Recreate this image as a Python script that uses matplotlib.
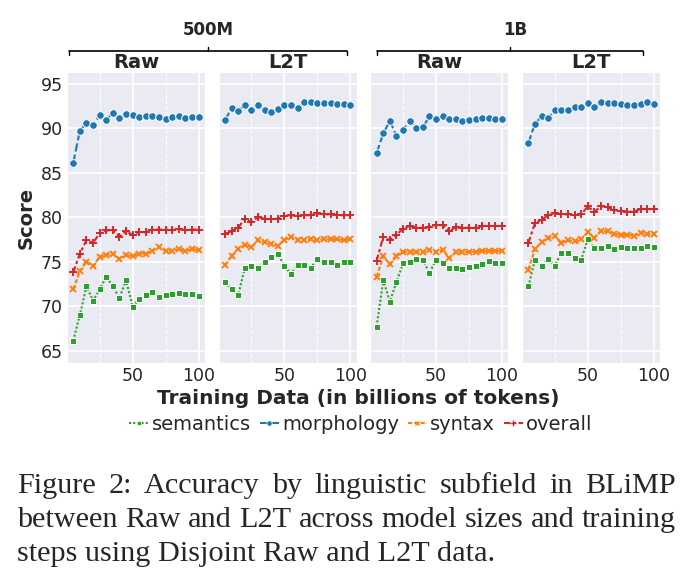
import matplotlib
matplotlib.use("Agg")
import matplotlib.pyplot as plt
from matplotlib.lines import Line2D
from matplotlib.ticker import MultipleLocator
import seaborn as sns

sns.set_style("darkgrid")
plt.rcParams['font.family'] = ['DejaVu Sans']

x_tokens = [5, 10, 15, 20, 25, 30, 35, 40, 45, 50, 55, 60, 65, 70, 75, 80, 85, 90, 95, 100]
panel_titles = ["Raw", "L2T", "Raw", "L2T"]
group_titles = ["500M", "1B"]
subfields = ["semantics", "morphology", "syntax", "overall"]

# 500M Raw
m500_raw_semantics = [66.1, 69.0, 72.2, 70.6, 71.9, 73.3, 72.2, 70.9, 72.9, 69.9, 70.8, 71.2, 71.6, 71.0, 71.2, 71.3, 71.5, 71.3, 71.3, 71.1]
m500_raw_morphology = [86.1, 89.7, 90.6, 90.3, 91.5, 90.9, 91.7, 91.1, 91.6, 91.5, 91.2, 91.3, 91.4, 91.2, 91.0, 91.2, 91.4, 91.1, 91.2, 91.2]
m500_raw_syntax = [71.9, 73.9, 75.0, 74.5, 75.5, 75.7, 75.9, 75.3, 75.7, 75.6, 75.9, 75.9, 76.2, 76.6, 76.2, 76.2, 76.4, 76.2, 76.4, 76.3]
m500_raw_overall = [73.8, 75.9, 77.4, 77.1, 78.2, 78.5, 78.5, 77.8, 78.4, 78.0, 78.3, 78.3, 78.6, 78.6, 78.6, 78.5, 78.7, 78.5, 78.6, 78.6]

# 500M L2T
m500_l2t_semantics = [72.7, 71.9, 71.2, 74.3, 74.5, 74.3, 75.0, 75.5, 75.9, 74.5, 73.6, 74.6, 74.6, 74.3, 75.3, 74.9, 74.9, 74.6, 74.9, 74.9]
m500_l2t_morphology = [90.9, 92.2, 91.9, 92.6, 92.0, 92.6, 92.0, 91.8, 92.1, 92.6, 92.6, 92.2, 92.9, 92.9, 92.8, 92.8, 92.8, 92.7, 92.7, 92.6]
m500_l2t_syntax = [74.6, 75.6, 76.4, 76.9, 76.6, 77.4, 77.2, 77.0, 76.8, 77.4, 77.8, 77.4, 77.4, 77.5, 77.4, 77.5, 77.5, 77.5, 77.4, 77.5]
m500_l2t_overall = [78.1, 78.4, 78.8, 79.8, 79.4, 80.0, 79.8, 79.8, 79.8, 80.1, 80.2, 80.1, 80.2, 80.2, 80.4, 80.3, 80.3, 80.2, 80.2, 80.2]

# 1B Raw
b1_raw_semantics = [67.7, 72.9, 70.5, 72.7, 74.8, 75.0, 75.3, 75.2, 73.7, 75.2, 74.8, 74.3, 74.3, 74.2, 74.4, 74.5, 74.7, 75.1, 74.8, 74.8]
b1_raw_morphology = [87.2, 89.4, 90.8, 89.1, 89.8, 90.8, 90.0, 90.1, 91.3, 91.0, 91.3, 91.0, 91.0, 90.8, 90.9, 91.0, 91.1, 91.1, 91.0, 91.0]
b1_raw_syntax = [73.3, 75.6, 74.7, 75.6, 76.1, 76.1, 76.1, 76.1, 76.3, 76.1, 76.3, 75.4, 76.1, 76.1, 76.1, 76.1, 76.2, 76.2, 76.2, 76.2]
b1_raw_overall = [75.1, 77.8, 77.4, 78.0, 78.7, 79.0, 78.8, 78.8, 78.9, 79.1, 79.1, 78.4, 78.9, 78.8, 78.8, 78.8, 79.0, 79.0, 79.0, 79.0]

# 1B L2T
b1_l2t_semantics = [72.2, 75.2, 74.5, 75.3, 74.5, 76.0, 76.0, 75.4, 75.2, 77.5, 76.5, 76.5, 76.8, 76.4, 76.6, 76.5, 76.5, 76.5, 76.7, 76.6]
b1_l2t_morphology = [88.3, 90.5, 91.3, 91.1, 92.0, 92.0, 92.0, 92.4, 92.4, 92.8, 92.4, 92.9, 92.8, 92.8, 92.7, 92.6, 92.6, 92.7, 92.9, 92.7]
b1_l2t_syntax = [74.1, 76.4, 77.2, 77.6, 77.9, 77.1, 77.4, 77.3, 77.5, 78.3, 77.7, 78.4, 78.4, 78.1, 78.0, 78.0, 77.9, 78.2, 78.1, 78.1]
b1_l2t_overall = [77.1, 79.3, 79.7, 80.2, 80.4, 80.3, 80.3, 80.2, 80.3, 81.2, 80.6, 81.2, 81.1, 80.8, 80.7, 80.6, 80.6, 80.9, 80.9, 80.9]

panels = [
    [m500_raw_semantics, m500_raw_morphology, m500_raw_syntax, m500_raw_overall],
    [m500_l2t_semantics, m500_l2t_morphology, m500_l2t_syntax, m500_l2t_overall],
    [b1_raw_semantics, b1_raw_morphology, b1_raw_syntax, b1_raw_overall],
    [b1_l2t_semantics, b1_l2t_morphology, b1_l2t_syntax, b1_l2t_overall],
]

colors = {"semantics": "#2ca02c", "morphology": "#1f77b4", "syntax": "#ff7f0e", "overall": "#d62728"}
markers = {"semantics": "s", "morphology": "o", "syntax": "x", "overall": "+"}
msizes = {"semantics": 4.2, "morphology": 5.5, "syntax": 5, "overall": 6}
styles = {"semantics": (0, (1, 1)), "morphology": (0, (4, 1.5)),
          "syntax": (0, (2, 1)), "overall": (0, (3, 1.25, 1.5, 1.25))}

W, H = 687, 586
fig, axes = plt.subplots(1, 4, figsize=(W / 100, H / 100), dpi=100, sharey=True)
fig.subplots_adjust(left=67 / W, right=660 / W, bottom=1 - 363 / H, top=1 - 72 / H, wspace=0.1)

def mec(n):
    return "white" if markers[n] in ("s", "o") else colors[n]

def mew(n, s=1.0):
    return (0.7 if markers[n] in ("s", "o") else 1.4) * s

for ax, data, title in zip(axes, panels, panel_titles):
    for name, vals in zip(subfields, data):
        ax.plot(x_tokens, vals, color=colors[name], linestyle=styles[name], linewidth=1.5,
                marker=markers[name], markersize=msizes[name],
                markeredgecolor=mec(name), markeredgewidth=mew(name))
    ax.set_title(title, fontsize=14, fontweight="bold", pad=3)
    ax.xaxis.set_major_locator(MultipleLocator(50))
    ax.xaxis.set_minor_locator(MultipleLocator(25))
    ax.grid(which="minor", axis="x", color="white", linestyle="--", linewidth=0.8)
    ax.grid(which="major", color="white", linewidth=1.2)
    ax.tick_params(axis="both", which="major", labelsize=12.5, pad=3, length=0)
    ax.tick_params(which="minor", length=0)
    ax.set_xlim(0.25, 104.75)
    ax.set_ylim(63.6, 96.3)
    ax.yaxis.set_major_locator(MultipleLocator(5))

axes[0].set_ylabel("Score", fontsize=14, fontweight="bold", labelpad=4)

# group headers with brackets
fig.text(208 / W, 1 - 30 / H, group_titles[0], ha="center", va="center", fontsize=12, fontweight="bold")
fig.text(515 / W, 1 - 30 / H, group_titles[1], ha="center", va="center", fontsize=12, fontweight="bold")
for (x0, x1) in [(69, 347), (377, 643)]:
    yb = 1 - 51 / H
    xm = (x0 + x1) / 2
    fig.add_artist(Line2D([x0 / W, x1 / W], [yb, yb], color="black", linewidth=1.2, transform=fig.transFigure))
    for xe in (x0, x1):
        fig.add_artist(Line2D([xe / W, xe / W], [yb, yb - 4 / H], color="black", linewidth=1.0, transform=fig.transFigure))
    fig.add_artist(Line2D([xm / W, xm / W], [yb, yb + 4 / H], color="black", linewidth=1.0, transform=fig.transFigure))

fig.text(358 / W, 1 - 398 / H, "Training Data (in billions of tokens)", ha="center", va="center",
         fontsize=14.5, fontweight="bold", color="#262626")

handles = [Line2D([], [], color=colors[n], linestyle=styles[n], linewidth=1.5, marker=markers[n],
                  markersize=msizes[n] * 0.7, markeredgecolor=mec(n), markeredgewidth=mew(n, 0.7))
           for n in subfields]
fig.legend(handles, subfields, loc="center", bbox_to_anchor=(361 / W, 1 - 424 / H), ncol=4,
           frameon=False, fontsize=14, handlelength=1.0, handletextpad=0.15, columnspacing=0.45,
           borderaxespad=0, borderpad=0)

# caption (justified)
cap_lines = ["Figure 2:  Accuracy by linguistic subfield in BLiMP",
             "between Raw and L2T across model sizes and training",
             "steps using Disjoint Raw and L2T data."]
cap_base = [493, 527, 561]
cap_fs = 21.8
fig.canvas.draw()
renderer = fig.canvas.get_renderer()
xl, xr = 17, 676
for i, (line, yb) in enumerate(zip(cap_lines, cap_base)):
    if i < 2:
        words = line.split()
        ts = [fig.text(0, 1 - yb / H, w, fontsize=cap_fs, family="Liberation Serif", va="baseline")
              for w in words]
        widths = [t.get_window_extent(renderer).width for t in ts]
        gap = ((xr - xl) - sum(widths)) / (len(words) - 1)
        x = xl
        for t, w in zip(ts, widths):
            t.set_x(x / W)
            x += w + gap
    else:
        fig.text(xl / W, 1 - yb / H, line, fontsize=cap_fs, family="Liberation Serif", va="baseline")

fig.savefig("out.png", dpi=100)
